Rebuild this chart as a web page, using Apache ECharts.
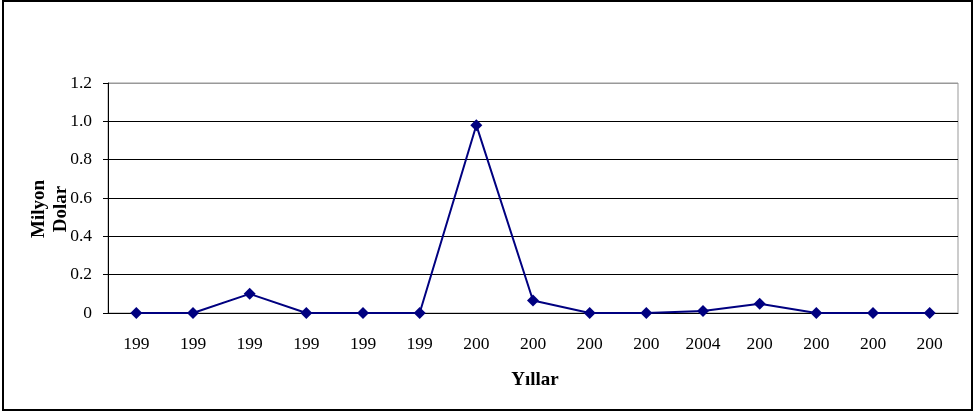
<!DOCTYPE html>
<html>
<head>
<meta charset="utf-8">
<style>
  html, body { margin: 0; padding: 0; background: #fff; }
  #chart { width: 976px; height: 413px; }
</style>
<script src="https://cdn.jsdelivr.net/npm/echarts@6/dist/echarts.min.js"></script>
</head>
<body>
<div id="chart"></div>
<script>
// year labels as they appear (truncated in the source)
var years = ["199", "199", "199", "199", "199", "199", "200", "200", "200", "200", "2004", "200", "200", "200", "200"];
var values = [0, 0, 0.1, 0, 0, 0, 0.98, 0.065, 0, 0, 0.01, 0.048, 0, 0, 0];
var yTicks = ["0", "0.2", "0.4", "0.6", "0.8", "1.0", "1.2"];

var chart = echarts.init(document.getElementById("chart"));
var serif = "'Liberation Serif', 'Times New Roman', serif";

chart.setOption({
  animation: false,
  graphic: [
    {
      type: "rect",
      shape: { x: 3, y: 1, width: 969, height: 409 },
      style: { fill: "none", stroke: "#000", lineWidth: 2 },
      z: 100
    }
  ],
  grid: {
    left: 108,
    right: 18,
    top: 83,
    bottom: 100,
    show: true,
    borderColor: "#999",
    borderWidth: 1
  },
  xAxis: {
    type: "category",
    data: years,
    boundaryGap: true,
    name: "Yıllar",
    nameLocation: "middle",
    nameGap: 58,
    nameMoveOverlap: false,
    nameTextStyle: { fontFamily: serif, fontSize: 19, fontWeight: "bold", color: "#000", padding: [0, 0, 0, 4] },
    axisLine: { lineStyle: { color: "#000", width: 1 } },
    axisTick: { length: 6, lineStyle: { color: "#000" } },
    axisLabel: { fontFamily: serif, fontSize: 17.5, color: "#000", margin: 22, interval: 0 }
  },
  yAxis: {
    type: "value",
    min: 0,
    max: 1.2,
    interval: 0.2,
    name: "Milyon\nDolar",
    nameLocation: "middle",
    nameGap: 36,
    nameMoveOverlap: false,
    nameTextStyle: {
      fontFamily: serif, fontSize: 19, fontWeight: "bold", color: "#000",
      lineHeight: 22, padding: [0, 22, 0, 0]
    },
    axisLine: { show: true, lineStyle: { color: "#000", width: 1 } },
    axisTick: { show: true, length: 5, lineStyle: { color: "#000" } },
    axisLabel: {
      fontFamily: serif, fontSize: 17.5, color: "#000", margin: 16,
      formatter: function (v) { return yTicks[Math.round(v / 0.2)]; }
    },
    splitLine: { lineStyle: { color: ["#000", "#000", "#000", "#000", "#000", "#000", "#999"], width: 1 } }
  },
  series: [
    {
      type: "line",
      data: values,
      symbol: "diamond",
      symbolSize: 12,
      itemStyle: { color: "#000080" },
      lineStyle: { color: "#000080", width: 2 }
    }
  ]
});
</script>
</body>
</html>
